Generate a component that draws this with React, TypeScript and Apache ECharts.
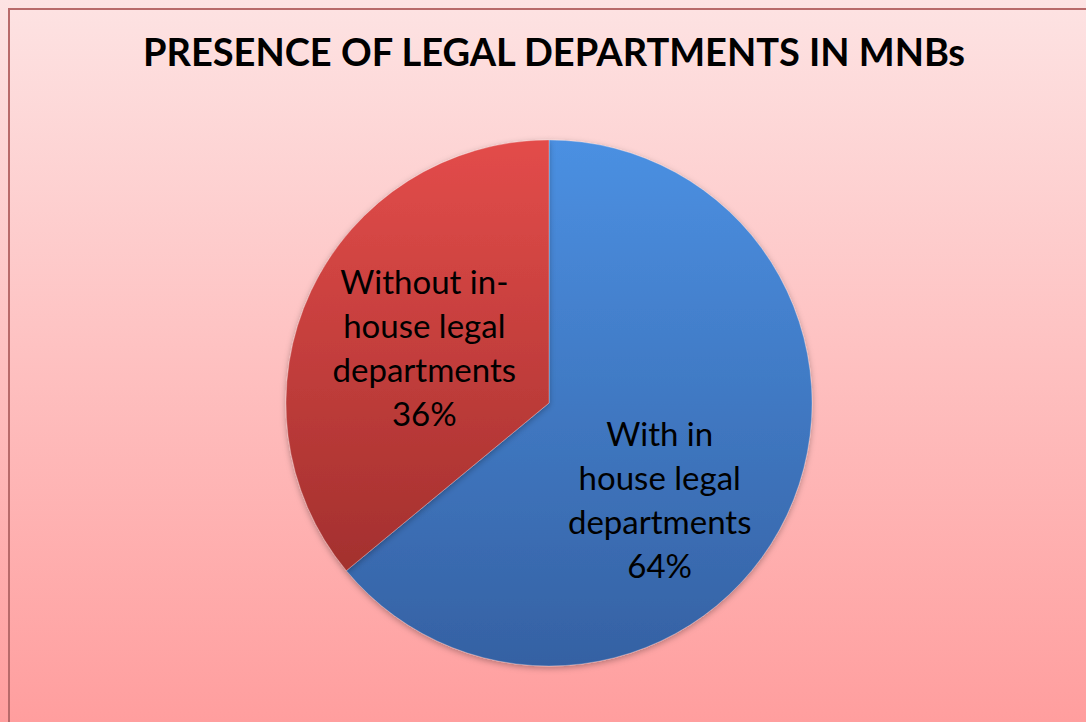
import React, { useEffect, useRef } from "react";
import * as echarts from "echarts";

const titleText = "PRESENCE OF LEGAL DEPARTMENTS IN MNBs";
const categories = ["With in\nhouse legal\ndepartments", "Without in-\nhouse legal\ndepartments"];
const values = [64, 36];
const labelOffsets = [
  [-11, 39],
  [-3, 1],
];

const sliceColors = [
  ["#4b90e2", "#3561a3"],
  ["#e34c4a", "#a3302e"],
];

export default function App() {
  const ref = useRef<HTMLDivElement>(null);
  useEffect(() => {
    const chart = echarts.init(ref.current!, null, { renderer: "svg" });
    const vg = (a: string, b: string) =>
      new echarts.graphic.LinearGradient(0, 0, 0, 1, [
        { offset: 0, color: a },
        { offset: 1, color: b },
      ]);
    chart.setOption({
      animation: false,
      backgroundColor: vg("#fde3e3", "#ff9e9e"),
      title: {
        text: titleText,
        left: 549,
        textAlign: "center",
        top: 27,
        textStyle: {
          fontFamily: "Lato",
          fontWeight: "bold",
          fontSize: 38,
          color: "#000",
        },
      },
      graphic: [
        {
          type: "rect",
          shape: { x: 9, y: 9, width: 1100, height: 740 },
          style: { fill: "none", stroke: "#b86a6a", lineWidth: 2 },
          silent: true,
        },
      ],
      series: [
        {
          type: "pie",
          center: [549, 403],
          radius: [0, 263],
          startAngle: 90,
          clockwise: true,
          label: {
            show: true,
            position: "inside",
            formatter: (p: any) => `${p.name}\n${p.value}%`,
            fontFamily: "Lato",
            fontSize: 33,
            lineHeight: 44,
            color: "#000",
            align: "center",
          },
          labelLine: { show: false },
          labelLayout: (p: any) => ({
            dx: labelOffsets[p.dataIndex][0],
            dy: labelOffsets[p.dataIndex][1],
          }),
          itemStyle: {
            borderColor: "rgba(255,255,255,0.25)",
            borderWidth: 1,
            shadowBlur: 6,
            shadowColor: "rgba(0,0,0,0.3)",
            shadowOffsetY: 2,
          },
          emphasis: { disabled: true },
          data: values.map((v, i) => ({
            name: categories[i],
            value: v,
            itemStyle: { color: vg(sliceColors[i][0], sliceColors[i][1]) },
          })),
        },
      ],
    });
    return () => chart.dispose();
  }, []);
  return (
    <div
      ref={ref}
      style={{ position: "absolute", left: 0, top: 0, width: 1086, height: 722, overflow: "hidden" }}
    />
  );
}
